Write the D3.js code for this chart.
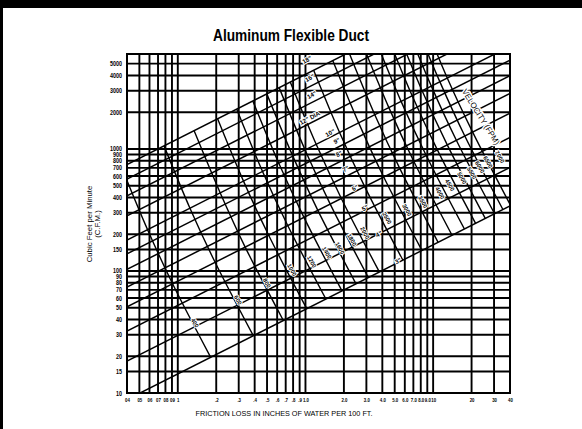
<!DOCTYPE html>
<html>
<head>
<meta charset="utf-8">
<script src="https://cdn.jsdelivr.net/npm/d3@7"></script>
<style>
  body { margin: 0; background: #fff; }
  svg { display: block; font-family: "Liberation Sans", Arial, sans-serif; }
</style>
</head>
<body>
<div id="chart"></div>
<script>
// Tamaño del lienzo
var width = 582;
var height = 429;

// Textos
var title = "Aluminum Flexible Duct";
var xTitle = "FRICTION LOSS IN INCHES OF WATER PER 100 FT.";
var yTitle1 = "Cubic Feet per Minute";
var yTitle2 = "(C.F.M.)";
var velocityTitle = "VELOCITY (FPM)";

// Marcas del eje X (pérdida por fricción)
var xTicks = [0.04, 0.05, 0.06, 0.07, 0.08, 0.09, 0.1, 0.2, 0.3, 0.4, 0.5, 0.6, 0.7, 0.8, 0.9,
  1, 2, 3, 4, 5, 6, 7, 8, 9, 10, 20, 30, 40];
var xTickLabels = ["04", "05", "06", "07", "08", "09", "1", ".2", ".3", ".4", ".5", ".6", ".7", ".8", ".9",
  "1.0", "2.0", "3.0", "4.0", "5.0", "6.0", "7.0", "8.0", "9.0", "10", "20", "30", "40"];

// Marcas del eje Y (CFM)
var yTicks = [10, 15, 20, 30, 40, 50, 60, 70, 80, 90, 100, 150, 200, 300, 400, 500, 600, 700, 800, 900,
  1000, 2000, 3000, 4000, 5000];

var diameters = ['3"', '4"', '5"', '6"', '7"', '8"', '9"', '10"', '12" DIA', '14"', '16"', '18"'];
var diameterCfmLeft = [8.83, 18.3, 32.2, 50.8, 73.8, 103, 138.4, 179.5, 283.1, 412.1, 567.5, 743.7];
var diameterCfmRight = [341, 706, 1245, 1963, 2851, 3981, 5346, 6934, 10940, 15920, 21930, 28730];
// posición de cada etiqueta de diámetro [fricción, cfm]
var diameterLabelPos = [[5.30, 121], [3.76, 201], [2.93, 328], [2.44, 479], [2.07, 686], [1.83, 910],
  [1.76, 1164], [1.56, 1352], [1.08, 1795], [1.12, 2770], [1.08, 3820], [1.03, 5370]];

// Curvas de velocidad (FPM): puntos [fricción, cfm] desde 3" hasta 18"
var velocities = [400, 600, 800, 1000, 1200, 1400, 1600, 1800, 2000, 2500, 3000, 3500, 4000, 4500,
  5000, 5500, 6000, 6500, 7000];
var velocityPoints = [
  [[0.181, 19.6], [0.091, 78.5], [0.058, 218], [0.0363, 707]],
  [[0.390, 29.5], [0.196, 117.8], [0.1245, 327], [0.078, 1060]],
  [[0.671, 39.3], [0.337, 157], [0.215, 436], [0.134, 1414]],
  [[1.023, 49.1], [0.515, 196], [0.327, 545], [0.205, 1767]],
  [[1.445, 58.9], [0.726, 236], [0.461, 654], [0.289, 2121]],
  [[1.932, 68.7], [0.973, 275], [0.618, 764], [0.387, 2474]],
  [[2.489, 78.5], [1.250, 314], [0.796, 873], [0.498, 2827]],
  [[3.105, 88.4], [1.563, 353], [0.993, 982], [0.622, 3181]],
  [[3.79, 98.2], [1.91, 393], [1.213, 1091], [0.760, 3534]],
  [[5.79, 122.7], [2.91, 491], [1.85, 1364], [1.159, 4418]],
  [[8.17, 147.3], [4.10, 589], [2.61, 1636], [1.635, 5301]],
  [[10.94, 171.8], [5.50, 687], [3.49, 1909], [2.19, 6185]],
  [[14.06, 196.4], [7.08, 785], [4.50, 2182], [2.82, 7069]],
  [[17.58, 220.9], [8.83, 884], [5.61, 2454], [3.52, 7952]],
  [[21.5, 245.5], [10.79, 982], [6.85, 2727], [4.30, 8836]],
  [[25.6, 270], [12.9, 1080], [8.20, 3000], [5.14, 9719]],
  [[30.3, 294.5], [15.2, 1178], [9.68, 3272], [6.06, 10600]],
  [[35.2, 319], [17.7, 1276], [11.3, 3545], [7.06, 11490]],
  [[40.5, 343.6], [20.4, 1374], [12.9, 3818], [8.11, 12370]]
];
var velocityLabelPos = [[0.136, 37.5], [0.296, 57.8], [0.499, 79.7], [0.783, 102], [1.12, 119], [1.47, 141],
  [1.86, 154], [2.31, 180], [2.92, 205], [4.35, 272], [6.23, 316], [8.32, 368], [11.3, 436], [13.5, 507],
  [16.8, 578], [20.1, 635], [23.2, 712], [26.9, 782], [33.3, 860]];
var velocityTitlePos = [23.7, 1830];

// Área del gráfico
var plot = { left: 127, right: 510, top: 54, bottom: 393 };

var svg = d3.select("#chart")
  .append("svg")
  .attr("width", width)
  .attr("height", height);

// Marco negro de la página (arriba e izquierda)
svg.append("rect").attr("x", 0).attr("y", 0).attr("width", width).attr("height", 8).attr("fill", "#000");
svg.append("rect").attr("x", 0).attr("y", 0).attr("width", 3).attr("height", height).attr("fill", "#000");

// Escalas logarítmicas
var x = d3.scaleLog().domain([0.04, 40]).range([plot.left, plot.right]);
var y = d3.scaleLog().domain([10, 6000]).range([plot.bottom, plot.top]);

svg.append("clipPath").attr("id", "clip")
  .append("rect")
  .attr("x", plot.left).attr("y", plot.top)
  .attr("width", plot.right - plot.left).attr("height", plot.bottom - plot.top);

var g = svg.append("g").attr("clip-path", "url(#clip)");

// Rejilla vertical
g.selectAll(".vgrid")
  .data(xTicks)
  .enter()
  .append("line")
  .attr("x1", function(d) { return x(d); })
  .attr("x2", function(d) { return x(d); })
  .attr("y1", plot.top)
  .attr("y2", plot.bottom)
  .attr("stroke", "#000")
  .attr("stroke-width", 1.9);

// Rejilla horizontal
g.selectAll(".hgrid")
  .data(yTicks)
  .enter()
  .append("line")
  .attr("x1", plot.left)
  .attr("x2", plot.right)
  .attr("y1", function(d) { return y(d); })
  .attr("y2", function(d) { return y(d); })
  .attr("stroke", "#000")
  .attr("stroke-width", 1.9);

// Líneas de diámetro
g.selectAll(".dia")
  .data(diameters)
  .enter()
  .append("line")
  .attr("x1", x(0.04))
  .attr("x2", x(40))
  .attr("y1", function(d, i) { return y(diameterCfmLeft[i]); })
  .attr("y2", function(d, i) { return y(diameterCfmRight[i]); })
  .attr("stroke", "#000")
  .attr("stroke-width", 1.5);

// Curvas de velocidad
var curve = d3.line()
  .x(function(d) { return x(d[0]); })
  .y(function(d) { return y(d[1]); })
  .curve(d3.curveCatmullRom.alpha(0.5));

g.selectAll(".vel")
  .data(velocityPoints)
  .enter()
  .append("path")
  .attr("d", curve)
  .attr("fill", "none")
  .attr("stroke", "#000")
  .attr("stroke-width", 1.4);

// Borde del gráfico
svg.append("rect")
  .attr("x", plot.left).attr("y", plot.top)
  .attr("width", plot.right - plot.left).attr("height", plot.bottom - plot.top)
  .attr("fill", "none").attr("stroke", "#000").attr("stroke-width", 2);

// Etiquetas de diámetro
svg.selectAll(".dialabel")
  .data(diameters)
  .enter()
  .append("text")
  .attr("transform", function(d, i) {
    var p = diameterLabelPos[i];
    return "translate(" + x(p[0]) + "," + y(p[1]) + ") rotate(-28)";
  })
  .attr("text-anchor", "middle")
  .attr("dy", "0.35em")
  .attr("font-size", 6.2)
  .attr("font-weight", "bold")
  .attr("fill", "#000")
  .attr("stroke", "#fff").attr("stroke-width", 2).attr("paint-order", "stroke")
  .text(function(d) { return d; });

// Etiquetas de velocidad
svg.selectAll(".vellabel")
  .data(velocities)
  .enter()
  .append("text")
  .attr("transform", function(d, i) {
    var p = velocityLabelPos[i];
    return "translate(" + x(p[0]) + "," + y(p[1]) + ") rotate(60)";
  })
  .attr("text-anchor", "middle")
  .attr("dy", "0.35em")
  .attr("font-size", 5.8)
  .attr("font-weight", "bold")
  .attr("fill", "#000")
  .attr("stroke", "#fff").attr("stroke-width", 2).attr("paint-order", "stroke")
  .text(function(d) { return d; });

svg.append("text")
  .attr("transform", "translate(" + x(velocityTitlePos[0]) + "," + y(velocityTitlePos[1]) + ") rotate(58)")
  .attr("text-anchor", "middle")
  .attr("dy", "0.35em")
  .attr("font-size", 8)
  .attr("fill", "#000")
  .attr("stroke", "#fff").attr("stroke-width", 3).attr("paint-order", "stroke")
  .text(velocityTitle);

// Ejes (solo etiquetas; la rejilla se dibuja aparte)
var xAxis = d3.axisBottom(x)
  .tickValues(xTicks)
  .tickSize(0)
  .tickPadding(5)
  .tickFormat(function(d, i) { return xTickLabels[i]; });

svg.append("g")
  .attr("transform", "translate(0," + plot.bottom + ")")
  .call(xAxis)
  .call(function(a) { a.select(".domain").remove(); })
  .selectAll("text")
  .attr("font-size", 6.2)
  .attr("font-weight", "bold")
  .attr("font-family", "Liberation Sans, Arial, sans-serif")
  .attr("transform", "scale(0.7,1)")
  .attr("fill", "#000");

var yAxis = d3.axisLeft(y)
  .tickValues(yTicks)
  .tickSize(0)
  .tickPadding(6)
  .tickFormat(function(d) { return d; });

svg.append("g")
  .attr("transform", "translate(" + plot.left + ",0)")
  .call(yAxis)
  .call(function(a) { a.select(".domain").remove(); })
  .selectAll("text")
  .attr("font-size", 6.3)
  .attr("font-weight", "bold")
  .attr("font-family", "Liberation Sans, Arial, sans-serif")
  .attr("transform", "scale(0.85,1)")
  .attr("fill", "#000");

// Títulos
svg.append("text")
  .attr("x", 291).attr("y", 41)
  .attr("text-anchor", "middle")
  .attr("font-size", 16)
  .attr("font-weight", "bold")
  .attr("textLength", 156)
  .attr("lengthAdjust", "spacingAndGlyphs")
  .attr("fill", "#000")
  .text(title);

svg.append("text")
  .attr("x", 284).attr("y", 416)
  .attr("text-anchor", "middle")
  .attr("font-size", 8)
  .attr("textLength", 177)
  .attr("lengthAdjust", "spacingAndGlyphs")
  .attr("fill", "#000")
  .text(xTitle);

svg.append("text")
  .attr("transform", "translate(92,224) rotate(-90)")
  .attr("text-anchor", "middle")
  .attr("font-size", 7.8)
  .attr("fill", "#000")
  .text(yTitle1);

svg.append("text")
  .attr("transform", "translate(100,224) rotate(-90)")
  .attr("text-anchor", "middle")
  .attr("font-size", 7.8)
  .attr("fill", "#000")
  .text(yTitle2);
</script>
</body>
</html>
